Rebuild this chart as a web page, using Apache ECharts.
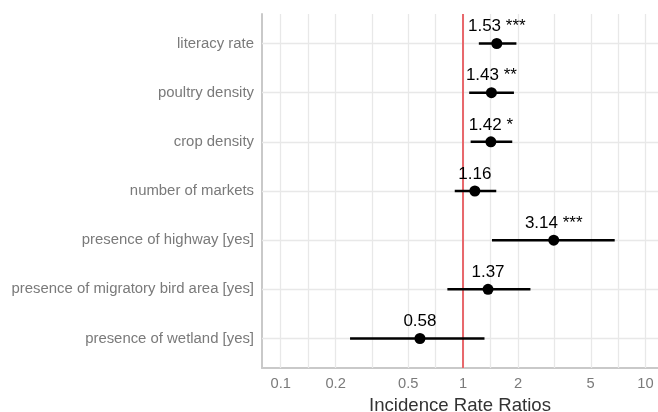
<!DOCTYPE html>
<html>
<head>
<meta charset="utf-8">
<script src="https://cdn.jsdelivr.net/npm/echarts@6/dist/echarts.min.js"></script>
<style>
html,body{margin:0;padding:0;background:#fff;}
#chart{width:658px;height:412px;}
</style>
</head>
<body>
<div id="chart"></div>
<script>
const categories = [
  'literacy rate',
  'poultry density',
  'crop density',
  'number of markets',
  'presence of highway [yes]',
  'presence of migratory bird area [yes]',
  'presence of wetland [yes]'
];
const estimates = [1.53, 1.43, 1.42, 1.16, 3.14, 1.37, 0.58];
const ciLow = [1.22, 1.08, 1.10, 0.90, 1.44, 0.82, 0.24];
const ciHigh = [1.96, 1.90, 1.86, 1.52, 6.78, 2.34, 1.31];
const stars = ['***', '**', '*', '', '***', '', ''];
const tickValues = [0.1, 0.2, 0.5, 1, 2, 5, 10];
const refValue = 1;

const lg = Math.log10;
const majorPos = tickValues.map(lg);
const minorPos = [];
for (let i = 0; i < majorPos.length - 1; i++) minorPos.push((majorPos[i] + majorPos[i + 1]) / 2);
const xMin = -1.1025, xMax = 1.0686;

const chart = echarts.init(document.getElementById('chart'));
const fontFam = '"Liberation Sans", Arial, sans-serif';

chart.setOption({
  animation: false,
  backgroundColor: '#fff',
  grid: { left: 262, right: 0, top: 14, bottom: 44, containLabel: false, outerBoundsMode: 'none' },
  xAxis: {
    type: 'value', min: xMin, max: xMax,
    axisLine: { show: true, onZero: false, lineStyle: { color: '#c9c9c9', width: 2 } },
    axisTick: { show: false, customValues: majorPos },
    splitLine: { show: false },
    axisLabel: {
      customValues: majorPos,
      margin: 8,
      color: '#7a7a7a', fontSize: 14.7, fontFamily: fontFam,
      formatter: v => String(+Math.pow(10, v).toPrecision(1))
    },
    name: 'Incidence Rate Ratios',
    nameLocation: 'middle', nameGap: 20,
    nameTextStyle: { color: '#333', fontSize: 18.6, fontFamily: fontFam, verticalAlign: 'top' }
  },
  yAxis: {
    type: 'value', min: -0.6, max: 6.6, inverse: true,
    axisLine: { show: true, onZero: false, lineStyle: { color: '#c9c9c9', width: 2 } },
    axisTick: { show: false, customValues: [0, 1, 2, 3, 4, 5, 6] },
    splitLine: { show: false },
    axisLabel: {
      customValues: [0, 1, 2, 3, 4, 5, 6],
      margin: 8,
      color: '#7a7a7a', fontSize: 14.9, fontFamily: fontFam,
      formatter: v => categories[Math.round(v)] || ''
    }
  },
  series: [
    {
      type: 'line', data: [], z: 1, silent: true,
      markLine: {
        z: 1, silent: true, symbol: ['none', 'none'], label: { show: false },
        lineStyle: { color: '#e8e8e8', width: 1.3, type: 'solid' },
        emphasis: { disabled: true },
        data: majorPos.concat(minorPos).map(v => ({ xAxis: v }))
          .concat(categories.map((c, i) => ({ yAxis: i })))
      }
    },
    {
      type: 'line', data: [], z: 2, silent: true,
      markLine: {
        z: 2, silent: true, symbol: ['none', 'none'], label: { show: false },
        lineStyle: { color: '#e8686c', width: 2, type: 'solid' },
        emphasis: { disabled: true },
        data: [{ xAxis: lg(refValue) }]
      }
    },
    {
      type: 'custom', z: 3, silent: true,
      data: categories.map((c, i) => [lg(ciLow[i]), lg(ciHigh[i]), i]),
      encode: { x: [0, 1], y: 2 },
      renderItem: (params, api) => {
        const a = api.coord([api.value(0), api.value(2)]);
        const b = api.coord([api.value(1), api.value(2)]);
        return { type: 'line', shape: { x1: a[0], y1: a[1], x2: b[0], y2: b[1] },
                 style: { stroke: '#000', lineWidth: 2.5 } };
      }
    },
    {
      type: 'scatter', z: 4, silent: true,
      symbol: 'circle', symbolSize: 11,
      itemStyle: { color: '#000', opacity: 1 },
      data: estimates.map((e, i) => [lg(e), i]),
      label: {
        show: true, position: 'top', distance: 3,
        color: '#000', fontSize: 17, fontFamily: fontFam,
        formatter: p => estimates[p.dataIndex].toFixed(2) + (stars[p.dataIndex] ? ' ' + stars[p.dataIndex] : '')
      }
    }
  ]
});
</script>
</body>
</html>
